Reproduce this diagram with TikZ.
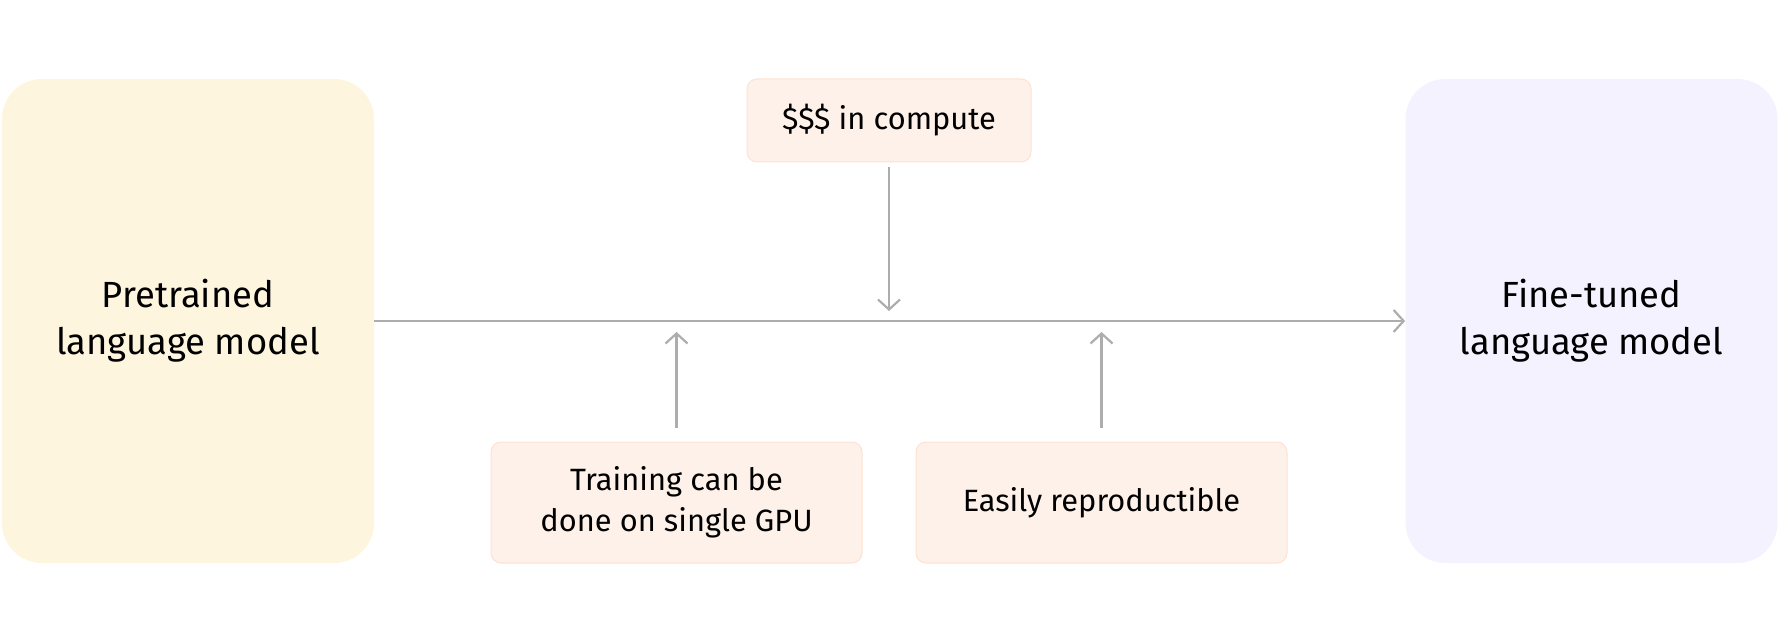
\documentclass[tikz,border=0pt]{standalone}
\usepackage{fontspec}
\setmainfont{Fira Sans}
\usetikzlibrary{arrows.meta}
\definecolor{pretrainfill}{HTML}{FEF5DF}
\definecolor{finefill}{HTML}{F4F2FE}
\definecolor{notefill}{HTML}{FEF1EA}
\definecolor{notedraw}{HTML}{FDE2D2}
\definecolor{flowgray}{HTML}{ADADAD}
\begin{document}
\begin{tikzpicture}[x=0.5pt,y=-0.5pt,
  model/.style={rounded corners=20pt, minimum width=186pt, minimum height=242pt,
    align=center, inner sep=0pt, font=\fontsize{18.2}{23.5}\selectfont},
  note/.style={draw=notedraw, fill=notefill, line width=0.5pt, rounded corners=5pt,
    align=center, inner sep=0pt, font=\fontsize{15.4}{20.5}\selectfont},
  flow/.style={draw=flowgray, line width=1.1pt, -{Straight Barb[length=5pt,width=11pt]}}]
\useasboundingbox (0,0) rectangle (1783,636);

\node[model, fill=pretrainfill] (pre) at (188,321) {Pretrained\\language model};
\node[model, fill=finefill] (fine) at (1591.5,321) {Fine-tuned\\language model};

\node[note, minimum width=142pt, minimum height=41.5pt] (cost) at (889,120.5) {\$\$\$ in compute};
\node[note, minimum width=185.5pt, minimum height=60.5pt] (gpu) at (676.5,502.5) {Training can be\\done on single GPU};
\node[note, minimum width=185.5pt, minimum height=60.5pt] (repro) at (1101.5,502.5) {Easily reproductible};

\draw[flow] (pre) -- (fine);
\draw[flow, shorten <=2.5pt, shorten >=5pt] (cost) -- (cost |- pre);
\draw[flow, shorten <=7pt, shorten >=5.5pt] (gpu) -- (gpu |- pre);
\draw[flow, shorten <=7pt, shorten >=5.5pt] (repro) -- (repro |- pre);
\end{tikzpicture}
\end{document}
